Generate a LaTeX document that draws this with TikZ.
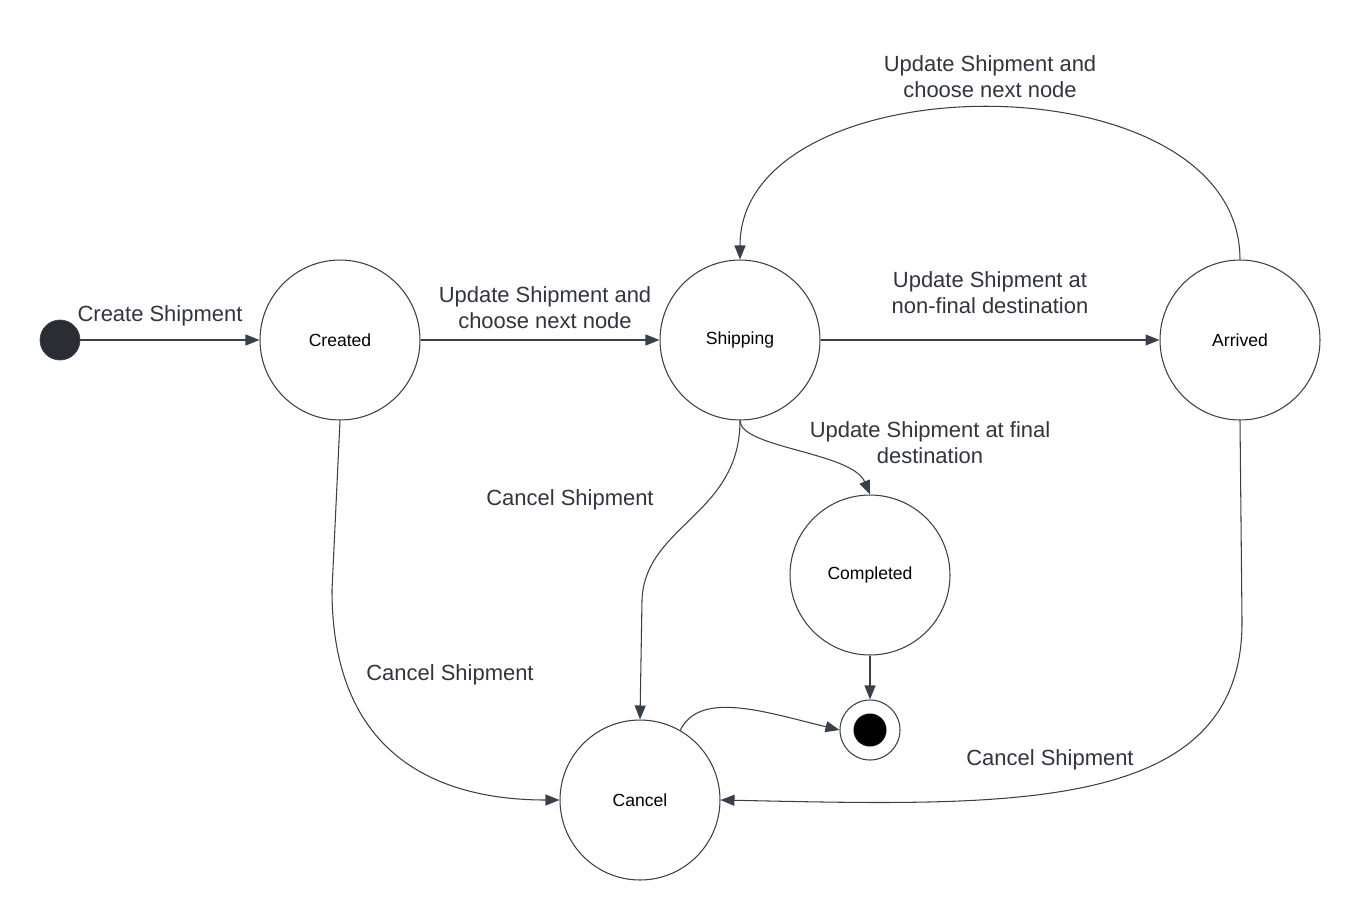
\documentclass[tikz,border=0pt]{standalone}
\usepackage{fontspec}
\setmainfont{Liberation Sans}
\usetikzlibrary{arrows.meta}
\definecolor{lucidline}{RGB}{58,64,74}
\definecolor{lucidtext}{RGB}{48,53,62}
\definecolor{lucidstart}{RGB}{42,45,52}

\begin{document}
\begin{tikzpicture}[x=0.02cm, y=-0.02cm,
    trans/.style={-{Triangle[length=2.8mm,width=2.2mm]}, line width=0.6pt, lucidline},
    state/.style={circle, draw=lucidline, line width=0.6pt, fill=white,
        minimum size=3.2cm, inner sep=0pt, font=\fontsize{10}{12}\selectfont},
    lbl/.style={text=lucidtext, align=center, inner sep=0pt,
        font=\fontsize{12.5}{14.7}\selectfont}
]
    \fill[white] (0,0) rectangle (1360,920);
    \useasboundingbox (0,0) rectangle (1360,920);

    % states
    \node[circle, fill=lucidstart, draw=lucidline, line width=0.4pt, minimum size=0.8cm, inner sep=0pt] (init) at (60,340) {};
    \node[state] (created) at (340,340) {Created};
    \node[state] (shipping) at (740,340) {Shipping};
    \node[state] (arrived) at (1240,340) {Arrived};
    \node[state] (completed) at (870,575) {Completed};
    \node[state] (cancel) at (640,800) {Cancel};
    \node[circle, draw=lucidline, line width=0.6pt, minimum size=1.2cm, inner sep=0pt] (final) at (870,730) {};
    \node[circle, fill=black, minimum size=0.66cm, inner sep=0pt] (finaldot) at (final) {};

    % transitions
    \draw[trans] (init) -- (created);
    \draw[trans] (created) -- (shipping);
    \draw[trans] (shipping) -- (arrived);
    \draw[trans] (arrived.north) .. controls (1240,55) and (740,60) .. (shipping.north);
    \draw[trans] (shipping.south) .. controls (740,448) and (852,452) .. (completed.north);
    \draw[trans] (shipping.south) .. controls (740,515) and (645,525) .. (642,600) -- (cancel.north);
    \draw[trans] (created.south) -- (332,590) .. controls (332,765) and (450,800) .. (cancel.west);
    \draw[trans] (arrived.south) -- (1242,620) .. controls (1244,815) and (1010,806) .. (cancel.east);
    \draw[trans] (completed) -- (final);
    \draw[trans] (cancel.60) .. controls (700,690) and (765,712) .. (final.west);

    % labels
    \node[lbl] (lcreate) at (160,316) {Create Shipment};
    \node[lbl] (lnext) at (545,308) {Update Shipment and\\choose next node};
    \node[lbl] (lnonfinal) at (990,293) {Update Shipment at\\non-final destination};
    \node[lbl] (lloop) at (990,77) {Update Shipment and\\choose next node};
    \node[lbl] (lfinal) at (930,443) {Update Shipment at final\\destination};
    \node[lbl] (lcancelship) at (570,500) {Cancel Shipment};
    \node[lbl] (lcancelcreated) at (450,675) {Cancel Shipment};
    \node[lbl] (lcancelarrived) at (1050,760) {Cancel Shipment};
\end{tikzpicture}
\end{document}
